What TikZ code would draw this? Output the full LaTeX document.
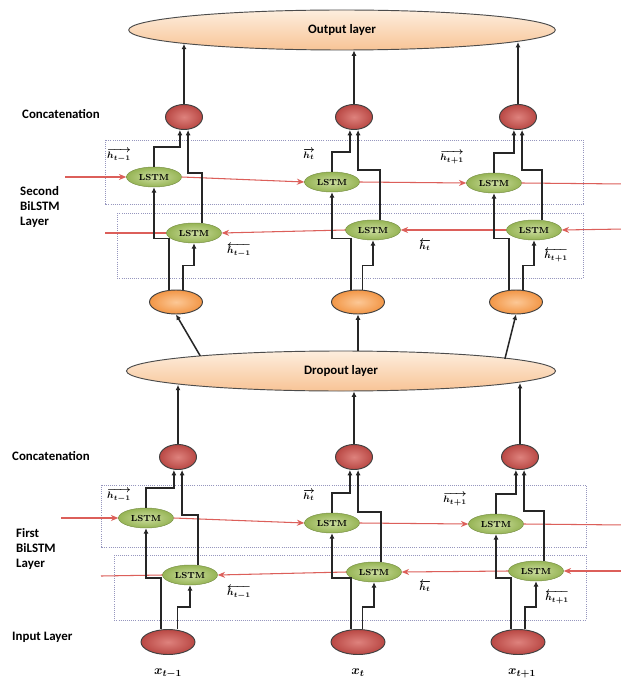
\documentclass[tikz,border=0pt]{standalone}
\usepackage{amsmath}
\usepackage{fontspec}
\setsansfont{Carlito}
\usetikzlibrary{shapes.geometric, arrows.meta, positioning}

\definecolor{peachlt}{RGB}{253,238,222}
\definecolor{peachdk}{RGB}{248,196,150}
\definecolor{redlt}{RGB}{222,130,125}
\definecolor{reddk}{RGB}{185,72,68}
\definecolor{greenlt}{RGB}{205,222,160}
\definecolor{greendk}{RGB}{150,180,85}
\definecolor{orangelt}{RGB}{252,200,150}
\definecolor{orangedk}{RGB}{242,150,70}
\definecolor{redwire}{RGB}{220,95,90}
\definecolor{boxline}{RGB}{150,150,190}

\begin{document}
\begin{tikzpicture}[
    x=0.03cm, y=-0.03cm,
    layer/.style={
        ellipse, draw=black!70, thick, inner sep=0pt,
        minimum width=12.8cm, minimum height=1.2cm,
        top color=peachlt, bottom color=peachdk,
        font=\sffamily\bfseries\fontsize{11}{13}\selectfont
    },
    concat/.style={
        ellipse, draw=black!75, thick, inner sep=0pt,
        minimum width=1.11cm, minimum height=0.75cm,
        inner color=redlt, outer color=reddk
    },
    inunit/.style={concat, minimum width=1.62cm, minimum height=0.75cm},
    dropunit/.style={
        ellipse, draw=black!75, thick, inner sep=0pt,
        minimum width=1.59cm, minimum height=0.72cm,
        inner color=orangelt, outer color=orangedk
    },
    lstm/.style={
        ellipse, draw=greendk!80!black, inner sep=0pt,
        minimum width=1.65cm, minimum height=0.6cm,
        inner color=greenlt, outer color=greendk,
        font=\bfseries\fontsize{7.5}{8}\selectfont
    },
    lbl/.style={anchor=west, align=left, inner sep=0pt,
        font=\sffamily\bfseries\fontsize{11}{12.5}\selectfont},
    hlbl/.style={inner sep=0pt, font=\fontsize{8.5}{9}\selectfont\boldmath},
    xlbl/.style={inner sep=0pt, font=\fontsize{11}{12}\selectfont\boldmath},
    dotbox/.style={draw=boxline, densely dotted, line width=0.8pt},
    wire/.style={draw=black!85, line width=1.3pt, -{Latex[length=1.6mm, width=1.5mm]}},
    up/.style={draw=black!85, line width=1pt, -{Latex[length=1.6mm, width=1.5mm]}},
    redarr/.style={draw=redwire, line width=0.9pt, -{Stealth[length=2.2mm, width=1.8mm]}},
    redline/.style={draw=redwire, line width=0.9pt},
]

\path[use as bounding box, fill=white] (0,0) rectangle (620,680);

% ============ Dotted boxes ============
\draw[dotbox] (105,140) rectangle (583,204);
\draw[dotbox] (117,213) rectangle (583,278);
\draw[dotbox] (101,485) rectangle (586,547);
\draw[dotbox] (114,555) rectangle (586,620);

% ============ Layers ============
\node[layer] (out) at (342,30) {Output layer};
\node[layer, minimum width=12.87cm] (drop) at (341,371) {Dropout layer};

% Row labels
\node[lbl] (catlbl2) at (22,114) {Concatenation};
\node[lbl] (seclbl) at (20,207) {Second\\BiLSTM\\Layer};
\node[lbl] (catlbl1) at (12,456) {Concatenation};
\node[lbl] (firstlbl) at (16,549) {First\\BiLSTM\\Layer};
\node[lbl] (inlbl) at (12,637) {Input Layer};

% ============ Second BiLSTM layer ============
\node[concat] (uc1) at (184,117) {};
\node[concat] (uc2) at (354,117) {};
\node[concat] (uc3) at (518,117) {};
\node[lstm] (uf1) at (154,177) {LSTM};
\node[lstm] (uf2) at (332,182) {LSTM};
\node[lstm] (uf3) at (494,183) {LSTM};
\node[lstm] (ub1) at (194,233) {LSTM};
\node[lstm] (ub2) at (373,230) {LSTM};
\node[lstm] (ub3) at (534,230) {LSTM};
\node[dropunit] (dr1) at (176,302) {};
\node[dropunit] (dr2) at (358,302) {};
\node[dropunit] (dr3) at (516,302) {};

\node[hlbl] (uhf1) at (119,155) {$\overrightarrow{h_{t-1}}$};
\node[hlbl] (uhf2) at (309,154) {$\overrightarrow{h_{t}}$};
\node[hlbl] (uhf3) at (452,157) {$\overrightarrow{h_{t+1}}$};
\node[hlbl] (uhb1) at (239,250) {$\overleftarrow{h_{t-1}}$};
\node[hlbl] (uhb2) at (425,245) {$\overleftarrow{h_{t}}$};
\node[hlbl] (uhb3) at (556,255) {$\overleftarrow{h_{t+1}}$};

% ============ First BiLSTM layer ============
\node[concat] (lc1) at (178,457) {};
\node[concat] (lc2) at (354,457) {};
\node[concat] (lc3) at (520,457) {};
\node[lstm] (lf1) at (146,518) {LSTM};
\node[lstm] (lf2) at (332,523) {LSTM};
\node[lstm] (lf3) at (496,524) {LSTM};
\node[lstm] (lb1) at (190,575) {LSTM};
\node[lstm] (lb2) at (374,572) {LSTM};
\node[lstm] (lb3) at (536,571) {LSTM};
\node[inunit] (in1) at (168,642) {};
\node[inunit] (in2) at (358,642) {};
\node[inunit] (in3) at (518,642) {};

\node[hlbl] (lhf1) at (119,495) {$\overrightarrow{h_{t-1}}$};
\node[hlbl] (lhf2) at (309,495) {$\overrightarrow{h_{t}}$};
\node[hlbl] (lhf3) at (455,499) {$\overrightarrow{h_{t+1}}$};
\node[hlbl] (lhb1) at (239,592) {$\overleftarrow{h_{t-1}}$};
\node[hlbl] (lhb2) at (425,586) {$\overleftarrow{h_{t}}$};
\node[hlbl] (lhb3) at (557,597) {$\overleftarrow{h_{t+1}}$};

\node[xlbl] (xl1) at (168,673) {$x_{t-1}$};
\node[xlbl] (xl2) at (358,673) {$x_{t}$};
\node[xlbl] (xl3) at (522,673) {$x_{t+1}$};

% ============ Recurrent links ============
\coordinate (ufin) at (65,177);
\coordinate (ufout) at (625,184);
\coordinate (ubin) at (625,229);
\coordinate (ubout) at (105,233);
\draw[redarr] (ufin) -- (uf1.west);
\draw[redarr] (uf1.east) -- (uf2.west);
\draw[redarr] (uf2.east) -- (uf3.west);
\draw[redline] (uf3.east) -- (ufout);
\draw[redarr] (ubin) -- (ub3.east);
\draw[redarr] (ub3.west) -- (ub2.east);
\draw[redarr] (ub2.west) -- (ub1.east);
\draw[redline] (ub1.west) -- (ubout);

\coordinate (lfin) at (61,518);
\coordinate (lfout) at (625,525);
\coordinate (lbin) at (625,571);
\coordinate (lbout) at (101,576);
\draw[redarr] (lfin) -- (lf1.west);
\draw[redarr] (lf1.east) -- (lf2.west);
\draw[redarr] (lf2.east) -- (lf3.west);
\draw[redline] (lf3.east) -- (lfout);
\draw[redarr] (lbin) -- (lb3.east);
\draw[redarr] (lb3.west) -- (lb2.east);
\draw[redarr] (lb2.west) -- (lb1.east);
\draw[redline] (lb1.west) -- (lbout);

% ============ Second layer wiring ============
\draw[wire] ([xshift=-6pt]dr1.north) -- ++(0,-51) -| (uf1.south);
\draw[wire] ([xshift=6pt]dr1.north) -- ++(0,-24) -| (ub1.south);
\draw[wire] (uf1.north) -- ++(0,-20) -| ([xshift=-3.5pt]uc1.south);
\draw[wire] ([xshift=7pt]ub1.north) -- ++(0,-50) -| ([xshift=3.5pt]uc1.south);

\draw[wire] ([xshift=-6pt]dr2.north) -- ++(0,-51) -| (uf2.south);
\draw[wire] ([xshift=4pt]dr2.north) -- ++(0,-24) -| (ub2.south);
\draw[wire] (uf2.north) -- ++(0,-20) -| ([xshift=-3.5pt]uc2.south);
\draw[wire] ([xshift=6pt]ub2.north) -- ++(0,-50) -| ([xshift=3.5pt]uc2.south);

\draw[wire] ([xshift=-6pt]dr3.north) -- ++(0,-51) -| (uf3.south);
\draw[wire] ([xshift=6pt]dr3.north) -- ++(0,-24) -| (ub3.south);
\draw[wire] (uf3.north) -- ++(0,-20) -| ([xshift=-3.5pt]uc3.south);
\draw[wire] ([xshift=7pt]ub3.north) -- ++(0,-50) -| ([xshift=3.5pt]uc3.south);

\draw[up] (uc1.north) -- (uc1.north |- out.185);
\draw[up] (uc2.north) -- (uc2.north |- out.south);
\draw[up] (uc3.north) -- (uc3.north |- out.-4);

% Dropout to second layer
\draw[wire] ([xshift=3pt]drop.174) -- (dr1.south);
\draw[wire] (drop.north -| dr2.south) -- (dr2.south);
\draw[wire] ([xshift=-8pt]drop.4) -- (dr3.south);

% ============ First layer wiring ============
\draw[wire] ([xshift=-6pt]in1.north) -- ++(0,-51) -| (lf1.south);
\draw[wire] ([xshift=8pt]in1.north) -- ++(0,-22) -| (lb1.south);
\draw[wire] (lf1.north) -- ++(0,-20) -| ([xshift=-3.5pt]lc1.south);
\draw[wire] ([xshift=7pt]lb1.north) -- ++(0,-50) -| ([xshift=3.5pt]lc1.south);

\draw[wire] ([xshift=-6pt]in2.north) -- ++(0,-51) -| (lf2.south);
\draw[wire] ([xshift=4pt]in2.north) -- ++(0,-22) -| (lb2.south);
\draw[wire] (lf2.north) -- ++(0,-20) -| ([xshift=-3.5pt]lc2.south);
\draw[wire] ([xshift=6pt]lb2.north) -- ++(0,-50) -| ([xshift=3.5pt]lc2.south);

\draw[wire] ([xshift=-6pt]in3.north) -- ++(0,-51) -| (lf3.south);
\draw[wire] ([xshift=6pt]in3.north) -- ++(0,-22) -| (lb3.south);
\draw[wire] (lf3.north) -- ++(0,-20) -| ([xshift=-3.5pt]lc3.south);
\draw[wire] ([xshift=7pt]lb3.north) -- ++(0,-50) -| ([xshift=3.5pt]lc3.south);

\draw[up] (lc1.north) -- (lc1.north |- drop.185);
\draw[up] (lc2.north) -- (lc2.north |- drop.south);
\draw[up] (lc3.north) -- (lc3.north |- drop.-4);

\end{tikzpicture}
\end{document}
